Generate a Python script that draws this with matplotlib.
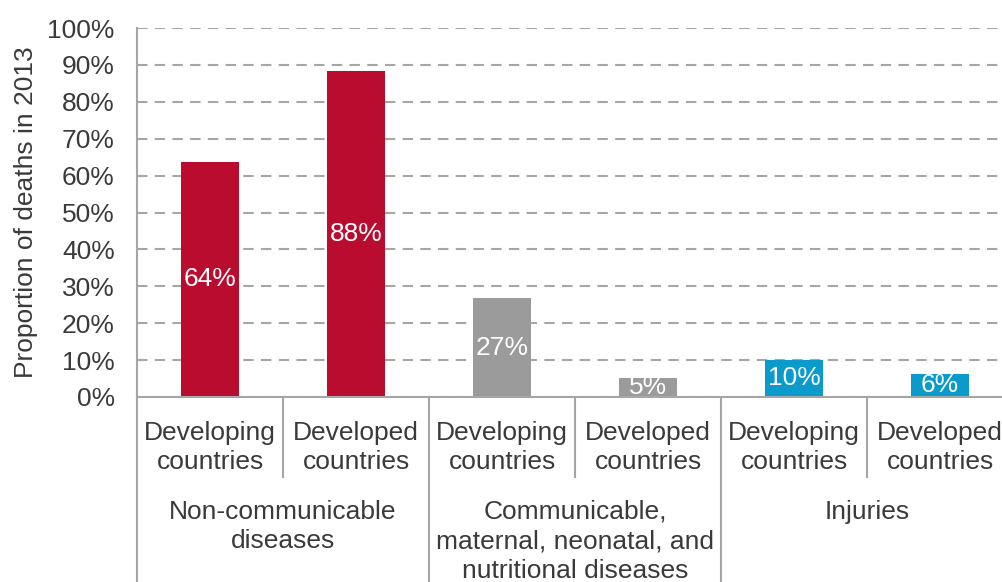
import matplotlib
matplotlib.use("Agg")
import matplotlib.pyplot as plt
import numpy as np

plt.rcParams['font.family'] = ['Liberation Sans', 'DejaVu Sans']

# data
subLabels = ["Developing\ncountries", "Developed\ncountries"] * 3
groupLabels = ["Non-communicable\ndiseases",
               "Communicable,\nmaternal, neonatal, and\nnutritional diseases",
               "Injuries"]
values = [63.7, 88.4, 26.7, 5.2, 10.1, 6.3]
valueLabels = ["64%", "88%", "27%", "5%", "10%", "6%"]
groupColors = ["#BA0C2F", "#9B9B9B", "#0A9BCB"]

textColor = "#3A3A3A"
lineColor = "#A6A6A6"
fs = 19

fig = plt.figure(figsize=(10.02, 5.82), dpi=100)
ax = fig.add_axes([137 / 1002, 185 / 582, 876 / 1002, 369 / 582])

x = np.arange(len(values))
colors = [groupColors[i // 2] for i in range(len(values))]
bars = ax.bar(x, values, width=0.40, color=colors, zorder=3)

for b, lab in zip(bars, valueLabels):
    ax.text(b.get_x() + b.get_width() / 2, b.get_height() / 2, lab,
            ha="center", va="center", color="white", fontsize=fs, zorder=4)

ax.set_xlim(-0.5, len(values) - 0.5)
ax.set_ylim(0, 100)
ax.set_yticks(range(0, 101, 10))
ax.set_yticklabels([f"{v}%" for v in range(0, 101, 10)])
ax.tick_params(axis="y", length=0, labelsize=fs, labelcolor=textColor, pad=16)
ax.set_xticks([])
ax.yaxis.grid(True, color=lineColor, linestyle=(0, (5, 3.5)), linewidth=1.5, zorder=0)
ax.set_axisbelow(True)

for side in ["top", "right"]:
    ax.spines[side].set_visible(False)
ax.spines["left"].set_color(lineColor)
ax.spines["left"].set_linewidth(1.5)
ax.spines["bottom"].set_color(lineColor)
ax.spines["bottom"].set_linewidth(1.5)
ax.spines["bottom"].set_zorder(5)

ax.set_ylabel("Proportion of deaths in 2013", fontsize=fs, color=textColor, labelpad=7)

# multi-level category axis below the plot
trans = ax.get_xaxis_transform()
for i in range(len(values) + 1):
    bottom = -0.6 if i % 2 == 0 else -0.217
    ax.plot([i - 0.5, i - 0.5], [0, bottom], color=lineColor, linewidth=1.5,
            transform=trans, clip_on=False)

for i, lab in enumerate(subLabels):
    ax.text(i, -0.136, lab, ha="center", va="center", fontsize=fs,
            color=textColor, transform=trans, linespacing=1.27)

for g, lab in enumerate(groupLabels):
    ax.text(2 * g + 0.5, -0.278, lab, ha="center", va="top", fontsize=fs,
            color=textColor, transform=trans, linespacing=1.3)

fig.savefig("out.png", dpi=100)
